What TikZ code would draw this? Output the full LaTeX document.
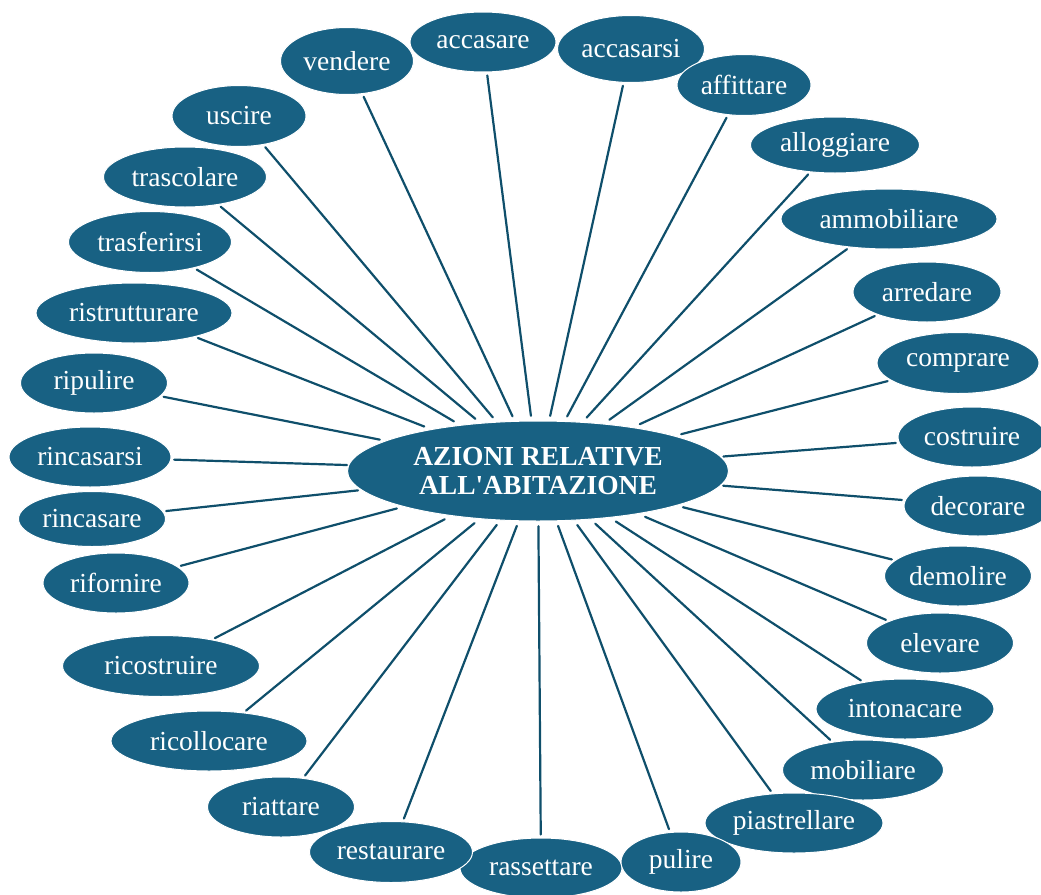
\documentclass[tikz,border=0pt]{standalone}
\usepackage{fontspec}
\newfontfamily\serifa{Liberation Serif}
\usetikzlibrary{shapes.geometric}
\definecolor{petrolio}{HTML}{186183}
\definecolor{filo}{HTML}{0F4F6B}
\begin{document}
\begin{tikzpicture}[x=1pt, y=-1pt, line join=round, line cap=round,
  font=\serifa\fontsize{27.5}{29}\selectfont,
  bolla/.style={ellipse, fill=petrolio, draw=white, line width=1pt,
    text=white, inner sep=0pt},
  raggio/.style={filo, line width=2.2pt, shorten >=3pt}]
\useasboundingbox (0,0) rectangle (1041,894);
\node[bolla, minimum width=381, minimum height=100, align=center,
  font=\serifa\bfseries\fontsize{27.5}{29}\selectfont] (azioni) at (538,471)
  {AZIONI RELATIVE\\ALL'ABITAZIONE};
\node[ellipse, minimum width=384, minimum height=110] (anello) at (azioni) {};
\foreach \nome/\x/\y/\w/\h in {
  rassettare/541/868/162/60, riattare/281/807/147/60,
  accasare/483/42/146/60, accasarsi/631/49/147/67,
  affittare/744/85/134/61, alloggiare/835/145/169/56,
  ammobiliare/889/219/216/60, arredare/927/292/148/60,
  comprare/958/363/162/61, costruire/972/437/148/60,
  decorare/978/506/148/60, demolire/958/576/147/60,
  elevare/940/643/147/60, intonacare/905/709/178/60,
  mobiliare/863/770/161/60, piastrellare/794/823/178/60,
  pulire/681/862/120/60, restaurare/391/852/163/61,
  ricollocare/209/741/196/60, ricostruire/161/666/197/61,
  rifornire/116/583/146/60, rincasare/92/519/147/55,
  rincasarsi/90/457/162/60, ripulire/94/383/147/60,
  ristrutturare/134/313/196/60, trasferirsi/150/242/163/61,
  trascolare/185/177/163/60, uscire/239/116/134/61,
  vendere/347/61/133/67}
{
  \node[bolla, minimum width=\w, minimum height=\h] (\nome) at (\x,\y) {\nome};
  \draw[raggio] (anello) -- (\nome);
}
\end{tikzpicture}
\end{document}
